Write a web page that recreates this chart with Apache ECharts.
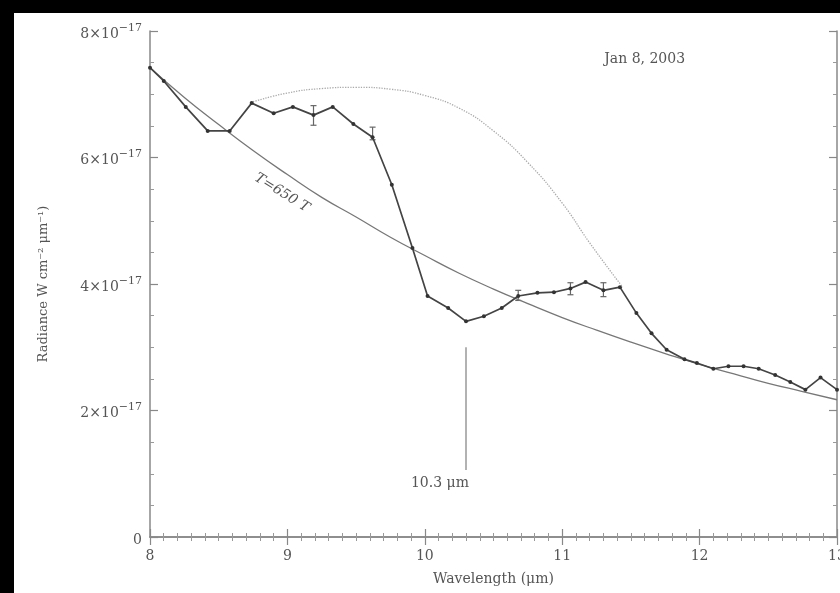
<!DOCTYPE html>
<html>
<head>
<meta charset="utf-8">
<script src="https://cdn.jsdelivr.net/npm/echarts@6/dist/echarts.min.js"></script>
<style>
  html, body { margin: 0; padding: 0; background: #000; overflow: hidden; }
  #chart { position: absolute; left: 14px; top: 13px; width: 826px; height: 580px; background: #fff; }
</style>
</head>
<body>
<div id="chart"></div>
<script>
// measured spectrum, radiance in units of 1e-17 W cm^-2 um^-1
var wavelength = [8.00, 8.10, 8.26, 8.42, 8.58, 8.74, 8.90, 9.04, 9.19, 9.33, 9.48, 9.62, 9.76, 9.91,
  10.02, 10.17, 10.30, 10.43, 10.56, 10.68, 10.82, 10.94, 11.06, 11.17, 11.30, 11.42, 11.54, 11.65,
  11.76, 11.89, 11.98, 12.10, 12.21, 12.32, 12.43, 12.55, 12.66, 12.77, 12.88, 13.00]
var radiance = [7.42, 7.21, 6.80, 6.42, 6.42, 6.86, 6.70, 6.80, 6.67, 6.80, 6.53, 6.32, 5.57, 4.57,
  3.81, 3.62, 3.41, 3.49, 3.62, 3.81, 3.86, 3.87, 3.93, 4.03, 3.90, 3.95, 3.54, 3.22,
  2.96, 2.81, 2.75, 2.66, 2.70, 2.70, 2.66, 2.56, 2.45, 2.33, 2.52, 2.33]

// error bars
var errX = [9.19, 9.62, 10.68, 11.06, 11.30]
var errLow = [6.51, 6.28, 3.74, 3.83, 3.80]
var errHigh = [6.82, 6.48, 3.90, 4.02, 4.02]

// T=650 K blackbody curve
var bbX = [8.0, 8.25, 8.5, 8.75, 9.0, 9.25, 9.5, 9.75, 10.0, 10.25, 10.5, 10.75, 11.0,
  11.25, 11.5, 11.75, 12.0, 12.25, 12.5, 12.75, 13.0]
var bbY = [7.42, 6.95, 6.52, 6.11, 5.73, 5.37, 5.06, 4.74, 4.45, 4.17, 3.92, 3.69, 3.47,
  3.27, 3.08, 2.90, 2.73, 2.58, 2.43, 2.30, 2.17]

// dotted dome
var domeX = [8.75, 9.0, 9.25, 9.5, 9.75, 10.0, 10.25, 10.5, 10.75, 11.0, 11.2, 11.44]
var domeY = [6.88, 7.02, 7.09, 7.11, 7.08, 6.98, 6.78, 6.42, 5.92, 5.28, 4.65, 3.95]

var yTicks = [0, 2, 4, 6, 8]
var xTicks = [8, 9, 10, 11, 12, 13]

var grey = '#555'
var font = 'DejaVu Serif'

function zip (xs, ys) {
  return xs.map(function (x, i) { return [x, ys[i]] })
}

var chart = echarts.init(document.getElementById('chart'))

var axisCommon = {
  type: 'value',
  axisLine: { show: true, lineStyle: { color: '#888', width: 1.5 } },
  axisTick: { show: true, inside: true, length: 8, lineStyle: { color: '#888', width: 1.2 } },
  minorTick: { show: true, length: 4, lineStyle: { color: '#999', width: 1 } },
  splitLine: { show: false }
}

chart.setOption({
  animation: false,
  grid: { left: 136, top: 18, right: 3, bottom: 56, outerBoundsMode: 'none' },
  xAxis: [
    Object.assign({}, axisCommon, {
      min: 8, max: 13, interval: 1,
      minorTick: Object.assign({}, axisCommon.minorTick, { splitNumber: 10 }),
      axisLabel: { color: grey, fontFamily: font, fontSize: 14, margin: 12, hideOverlap: false,
        formatter: function (v) { return xTicks.indexOf(v) >= 0 ? String(v) : '' } },
      name: 'Wavelength (μm)', nameLocation: 'middle', nameGap: 35,
      nameTextStyle: { color: grey, fontFamily: font, fontSize: 14 }
    }),
    Object.assign({}, axisCommon, {
      position: 'top', min: 8, max: 13, interval: 1,
      minorTick: Object.assign({}, axisCommon.minorTick, { splitNumber: 10 }),
      axisLabel: { show: false }
    })
  ],
  yAxis: [
    Object.assign({}, axisCommon, {
      min: 0, max: 8, interval: 2,
      minorTick: Object.assign({}, axisCommon.minorTick, { splitNumber: 4 }),
      axisLabel: {
        margin: 8,
        formatter: function (v) {
          if (yTicks.indexOf(v) < 0) return ''
          return v === 0 ? '{a|0}' : '{a|' + v + '×10}{s|−17}'
        },
        rich: {
          a: { color: grey, fontFamily: font, fontSize: 14, padding: [6, 0, 0, 0] },
          s: { color: grey, fontFamily: font, fontSize: 11, padding: [0, 0, 6, 0] }
        }
      },
      name: 'Radiance W cm⁻² μm⁻¹)', nameLocation: 'middle', nameGap: 100,
      nameTextStyle: { color: grey, fontFamily: font, fontSize: 13 }
    }),
    Object.assign({}, axisCommon, {
      position: 'right', min: 0, max: 8, interval: 2,
      minorTick: Object.assign({}, axisCommon.minorTick, { splitNumber: 4 }),
      axisLabel: { show: false }
    })
  ],
  series: [
    {
      name: 'dome', type: 'line', smooth: true, symbol: 'none',
      data: zip(domeX, domeY),
      lineStyle: { color: '#aaa', width: 1.3, type: 'dotted' }
    },
    {
      name: 'T=650', type: 'line', smooth: true, symbol: 'none',
      data: zip(bbX, bbY),
      lineStyle: { color: '#777', width: 1.3 },
      markLine: {
        silent: true, symbol: 'none',
        lineStyle: { color: '#999', width: 1.5, type: 'solid' },
        label: { show: false },
        data: [[{ coord: [10.3, 3.0] }, { coord: [10.3, 1.06] }]]
      }
    },
    {
      name: 'spectrum', type: 'line', symbol: 'circle', symbolSize: 4,
      data: zip(wavelength, radiance),
      itemStyle: { color: '#333' },
      lineStyle: { color: '#444', width: 1.7 }
    },
    {
      name: 'errors', type: 'custom',
      data: errX.map(function (x, i) { return [x, errLow[i], errHigh[i]] }),
      renderItem: function (params, api) {
        var lo = api.coord([api.value(0), api.value(1)])
        var hi = api.coord([api.value(0), api.value(2)])
        var w = 3
        var st = { stroke: '#666', lineWidth: 1.2 }
        return {
          type: 'group',
          children: [
            { type: 'line', shape: { x1: lo[0], y1: lo[1], x2: hi[0], y2: hi[1] }, style: st },
            { type: 'line', shape: { x1: lo[0] - w, y1: lo[1], x2: lo[0] + w, y2: lo[1] }, style: st },
            { type: 'line', shape: { x1: hi[0] - w, y1: hi[1], x2: hi[0] + w, y2: hi[1] }, style: st }
          ]
        }
      }
    }
  ]
})

// text annotations placed in data coordinates
function addText (coord, text, opts) {
  var p = chart.convertToPixel({ xAxisIndex: 0, yAxisIndex: 0 }, coord)
  return Object.assign({
    type: 'text', x: p[0], y: p[1],
    style: { text: text, fill: grey, font: '14px "DejaVu Serif"', align: 'center', verticalAlign: 'middle' }
  }, opts || {})
}

var t = addText([8.96, 5.44], 'T=650 T', { rotation: -32 * Math.PI / 180 })
t.style.font = 'italic 14px "DejaVu Serif"'

chart.setOption({
  graphic: [
    addText([11.6, 7.55], 'Jan 8, 2003'),
    addText([10.11, 0.85], '10.3 μm'),
    t
  ]
})
</script>
</body>
</html>
